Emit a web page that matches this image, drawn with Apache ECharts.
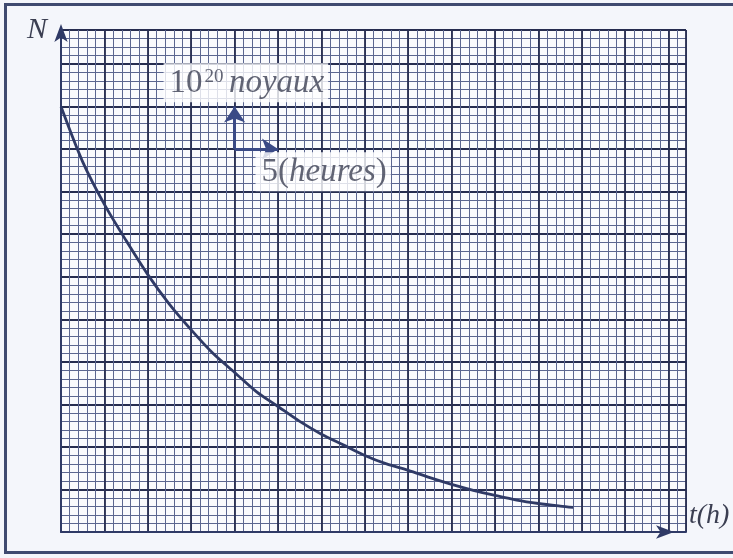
<!DOCTYPE html>
<html>
<head>
<meta charset="utf-8">
<script src="https://cdn.jsdelivr.net/npm/echarts@6/dist/echarts.min.js"></script>
<style>
html,body{margin:0;padding:0;background:#f4f6fb;}
#chart{width:733px;height:558px;}
</style>
</head>
<body>
<div id="chart"></div>
<script>
// time (hours)
const tHours = [0, 2.5, 5, 7.5, 10, 12.5, 15, 17.5, 20, 22.5, 25, 27.5, 30, 32.5, 35, 37.5, 40, 42.5, 45, 47.5, 50, 52.5, 55, 57.5, 59];
// N (x 10^20 noyaux)
const nValues = [10.0, 8.7, 7.7, 6.85, 6.05, 5.35, 4.75, 4.2, 3.75, 3.3, 2.95, 2.6, 2.3, 2.05, 1.8, 1.6, 1.45, 1.28, 1.12, 0.98, 0.86, 0.75, 0.67, 0.61, 0.58];
// scale indicator: origin, vertical unit, horizontal unit
const scaleOrigin = [20, 9];
const scaleUp = [20, 10];
const scaleRight = [25, 9];
// annotation labels
const labelTexts = ['{b|10}{sup|20} {i|noyaux}', '{b|5(}{i|heures}{b|)}'];
const labelPos = [[21.3, 10.56], [30.2, 8.47]];
const axisNames = {x: 't(h)', y: 'N'};

const ink = '#2f3a66';
const majorC = '#262d50';
const minorC = '#5b6690';
const textC = '#3b3f52';
const serif = '"Liberation Serif","DejaVu Serif",serif';

const chart = echarts.init(document.getElementById('chart'));
const xMax = 72, yMax = 11.8;

const hidden = {axisLabel:{show:false}, axisTick:{show:false}};
chart.setOption({
  backgroundColor: '#f4f6fb',
  animation: false,
  graphic: [{
    type: 'rect', left: 3, top: 2, shape: {width: 740, height: 548},
    style: {fill: 'none', stroke: '#3f4a70', lineWidth: 3}, z: 100
  }],
  grid: {left: 61, top: 30, right: 47, bottom: 26, show: true, backgroundColor: '#f9fafd', borderWidth: 0},
  xAxis: [
    Object.assign({type: 'value', min: 0, max: xMax, interval: 1,
      axisLine: {show: false},
      splitLine: {show: true, lineStyle: {color: minorC, width: 1}}}, hidden),
    Object.assign({type: 'value', min: 0, max: xMax, interval: 5,
      name: axisNames.x, nameLocation: 'end', nameGap: 3,
      nameTextStyle: {fontFamily: serif, fontStyle: 'italic', fontSize: 28, color: textC, verticalAlign: 'bottom', padding: [0, 0, 2, 0]},
      axisLine: {show: true, lineStyle: {color: ink, width: 2}, symbol: ['none', 'arrow'], symbolSize: [10, 18], symbolOffset: [0, -12]},
      splitLine: {show: true, lineStyle: {color: majorC, width: 1.8}}}, hidden)
  ],
  yAxis: [
    Object.assign({type: 'value', min: 0, max: yMax, interval: 0.2,
      axisLine: {show: false},
      splitLine: {show: true, lineStyle: {color: minorC, width: 1}}}, hidden),
    Object.assign({type: 'value', min: 0, max: yMax, interval: 1, position: 'left',
      name: axisNames.y, nameLocation: 'end', nameGap: 0,
      nameTextStyle: {fontFamily: serif, fontStyle: 'italic', fontSize: 30, color: textC, align: 'right', verticalAlign: 'middle', padding: [0, 14, 0, 0]},
      axisLine: {show: true, lineStyle: {color: ink, width: 2}, symbol: ['none', 'arrow'], symbolSize: [10, 18], symbolOffset: [0, 6]},
      splitLine: {show: true, lineStyle: {color: majorC, width: 1.8}}}, hidden)
  ],
  series: [
    {
      type: 'line', xAxisIndex: 0, yAxisIndex: 0, smooth: 0.3, showSymbol: false,
      data: tHours.map((t, i) => [t, nValues[i]]),
      lineStyle: {color: ink, width: 2.8}, z: 5
    },
    {
      type: 'lines', coordinateSystem: 'cartesian2d', xAxisIndex: 0, yAxisIndex: 0,
      symbol: ['none', 'arrow'], symbolSize: [11, 16],
      lineStyle: {color: '#3a4a86', width: 3, opacity: 1},
      data: [{coords: [scaleOrigin, scaleUp]}, {coords: [scaleOrigin, scaleRight]}], z: 6
    },
    {
      type: 'scatter', xAxisIndex: 0, yAxisIndex: 0, symbolSize: 0, z: 7,
      data: labelPos.map((p, i) => ({value: p, label: {formatter: labelTexts[i]}})),
      label: {
        show: true, position: 'inside', backgroundColor: '#ffffff',
        padding: [4, 4, 2, 6], color: textC,
        rich: {
          b: {fontFamily: serif, fontSize: 33, color: textC},
          i: {fontFamily: serif, fontSize: 33, fontStyle: 'italic', color: textC},
          sup: {fontFamily: serif, fontSize: 19, color: textC, verticalAlign: 'top', padding: [0, 2, 14, 2]}
        }
      }
    }
  ]
});
</script>
</body>
</html>
